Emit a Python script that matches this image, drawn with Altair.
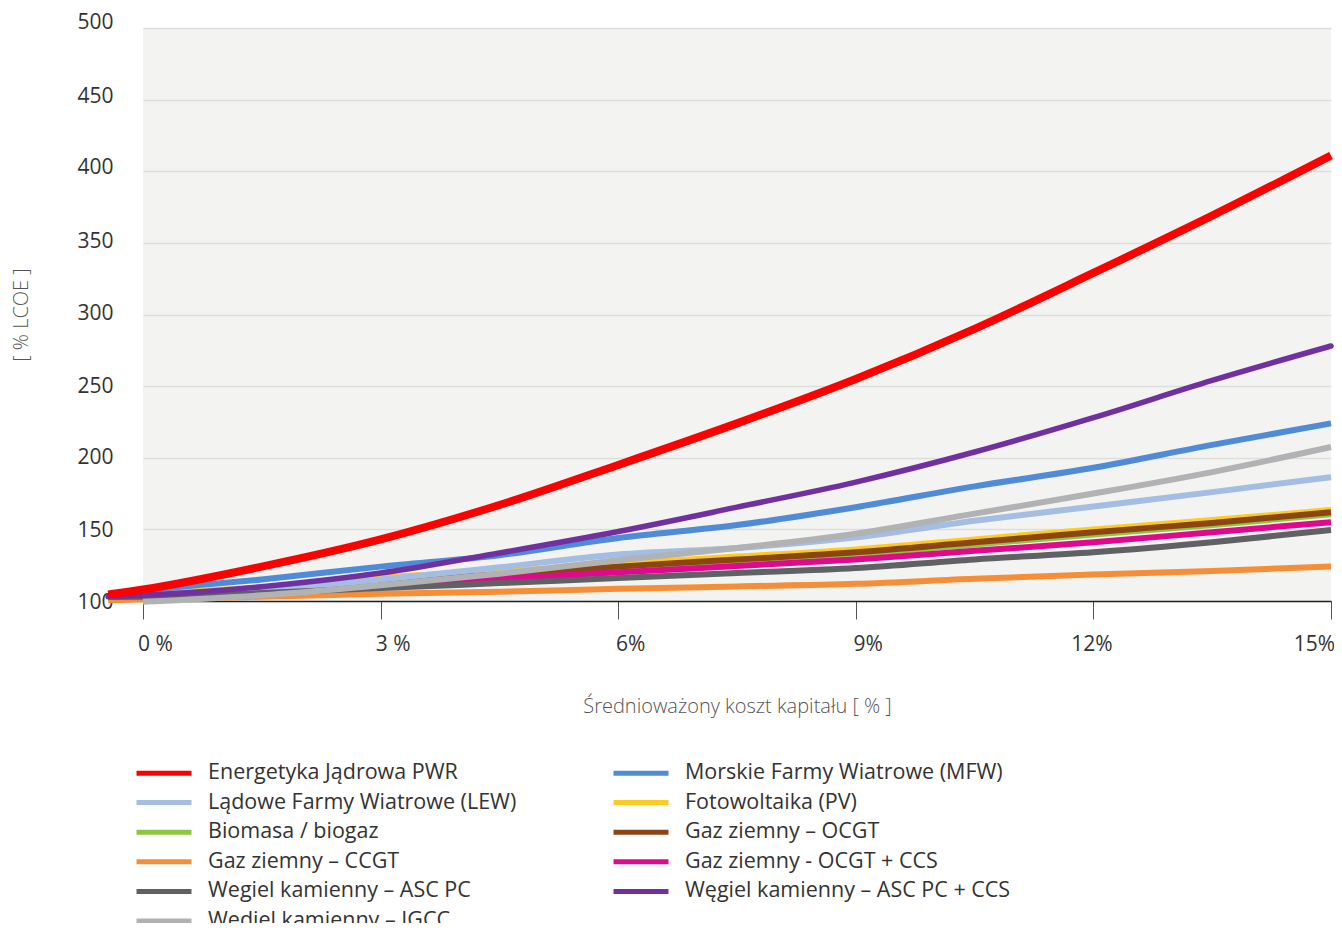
import altair as alt
import pandas as pd

# x positions (weighted average cost of capital, %)
XS = [-0.44, 0, 1.5, 3, 4.5, 6, 7.5, 9, 10.5, 12, 13.5, 15]

# series values [% LCOE]
PWR      = [104.5, 108, 124, 143, 167, 195, 224, 255, 290, 329, 369, 411]
MFW      = [103.5, 107, 115, 124, 132, 144, 153, 165.5, 180, 193, 209, 224]
LEW      = [103, 104.5, 108, 115, 123.5, 132.5, 137, 144.5, 156, 166, 176, 186.5]
PV       = [103.5, 105, 109.5, 116.5, 120.5, 126, 131, 136, 143, 150, 156.5, 163.5]
BIO      = [102.5, 103.5, 107, 112.5, 117, 122.5, 127.5, 132.5, 139.5, 146.5, 153, 160.5]
OCGT     = [103, 104, 108, 114, 118.5, 124, 129, 134, 141, 148, 154.5, 162]
CCGT     = [100.5, 101, 103, 105, 106.5, 108.5, 110.2, 112, 115.5, 118.5, 121, 124]
OCGT_CCS = [103, 103.5, 106.5, 111, 115.5, 120, 124.5, 129, 135, 141, 148, 155]
ASC      = [103, 103, 105.5, 109, 112.5, 116, 119.5, 123, 129, 134, 141, 149.5]
ASC_CCS  = [103, 104, 110, 119.5, 133.5, 148.5, 165.5, 183, 204, 228, 254, 278]
IGCC     = [None, 99.5, 104, 111, 119, 128.5, 137, 147, 161, 175, 190, 207.5]

NAMES = {
    # left legend column
    "Energetyka Jądrowa PWR": PWR,
    "Lądowe Farmy Wiatrowe (LEW)": LEW,
    "Biomasa / biogaz": BIO,
    "Gaz ziemny – CCGT": CCGT,
    "Wegiel kamienny – ASC PC": ASC,
    "Wędiel kamienny – IGCC": IGCC,
    # right legend column
    "Morskie Farmy Wiatrowe (MFW)": MFW,
    "Fotowoltaika (PV)": PV,
    "Gaz ziemny – OCGT": OCGT,
    "Gaz ziemny - OCGT + CCS": OCGT_CCS,
    "Węgiel kamienny – ASC PC + CCS": ASC_CCS,
}
LEGEND_ORDER = list(NAMES.keys())
COLORS = ["#ff0000", "#a3bde3", "#8dc63f", "#f68e37", "#606164", "#b1b2b4",
          "#4f8bd6", "#ffcb22", "#8b4513", "#e0088f", "#7030a0"]

# drawing order (bottom to top)
DRAW_ORDER = ["Gaz ziemny – CCGT", "Biomasa / biogaz", "Fotowoltaika (PV)",
              "Gaz ziemny – OCGT", "Gaz ziemny - OCGT + CCS", "Lądowe Farmy Wiatrowe (LEW)",
              "Wegiel kamienny – ASC PC", "Wędiel kamienny – IGCC",
              "Morskie Farmy Wiatrowe (MFW)", "Węgiel kamienny – ASC PC + CCS",
              "Energetyka Jądrowa PWR"]

X_TICKS = [0, 3, 6, 9, 12, 15]
X_LABELS = ["0 %", "3 %", "6%", "9%", "12%", "15%"]
Y_TICKS = [100, 150, 200, 250, 300, 350, 400, 450, 500]

rows = []
for s in DRAW_ORDER:
    for x, v in zip(XS, NAMES[s]):
        if v is not None:
            rows.append({"series": s, "x": x, "y": v})
df = pd.DataFrame(rows)

label_expr = " : ".join(
    f"datum.value == {v} ? '{l}'" for v, l in zip(X_TICKS, X_LABELS)
) + " : ''"

FONT = "Open Sans"

base = alt.Chart(df).encode(
    x=alt.X("x:Q",
            scale=alt.Scale(domain=[0, 15], nice=False, zero=False),
            axis=alt.Axis(values=X_TICKS, labelExpr=label_expr, grid=False,
                          labelFlush=False,
                          title="Średnioważony koszt kapitału [ % ]",
                          domainColor="#222222", domainWidth=1.5,
                          tickColor="#555555", tickSize=18, tickWidth=1,
                          labelPadding=14, labelFontSize=21, labelColor="#333333",
                          labelOffset={"condition": [
                              {"test": "datum.value <= 9", "value": 12},
                              {"test": "datum.value < 14", "value": -2}],
                              "value": -17},
                          titleFontSize=20, titleFontWeight=300, titleColor="#555555",
                          titlePadding=42)),
    y=alt.Y("y:Q",
            scale=alt.Scale(domain=[100, 500], nice=False, zero=False),
            axis=alt.Axis(values=Y_TICKS, grid=True, gridColor="#dddddd", gridWidth=1.5,
                          labelFlush=False,
                          domain=False, ticks=False, labelPadding=30,
                          labelFontSize=21, labelColor="#333333",
                          labelOffset={"condition": [
                              {"test": "datum.value >= 500", "value": -6},
                              {"test": "datum.value >= 400", "value": -3.5},
                              {"test": "datum.value >= 300", "value": -1.3},
                              {"test": "datum.value >= 200", "value": 0}],
                              "value": 1.5},
                          title="[ % LCOE ]", titleFontSize=20, titleFontWeight=300,
                          titleColor="#555555", titlePadding=45)),
    color=alt.Color("series:N",
                    scale=alt.Scale(domain=LEGEND_ORDER, range=COLORS),
                    legend=alt.Legend(title=None, orient="none", legendX=9, legendY=733,
                                      columns=2, symbolType="M-3,0H3", symbolSize=336,
                                      symbolStrokeWidth=5, labelFontSize=21.5,
                                      labelColor="#333333", labelLimit=600,
                                      columnPadding=86, rowPadding=6.6, labelOffset=32,
                                      padding=0)),
)

others = [s for s in DRAW_ORDER if s not in ("Energetyka Jądrowa PWR", "Węgiel kamienny – ASC PC + CCS")]

l1 = base.transform_filter(alt.FieldOneOfPredicate(field="series", oneOf=others)).mark_line(
    interpolate="monotone", strokeWidth=6)
l2 = base.transform_filter(alt.datum.series == "Węgiel kamienny – ASC PC + CCS").mark_line(
    interpolate="monotone", strokeWidth=5.5, strokeCap="round")
l3 = base.transform_filter(alt.datum.series == "Energetyka Jądrowa PWR").mark_line(
    interpolate="monotone", strokeWidth=8)

chart = alt.layer(l1, l2, l3).properties(
    width=1188, height=573,
    autosize=alt.AutoSizeParams(type="none"),
    padding={"left": 135, "top": 20, "right": 3, "bottom": 322},
).configure_view(
    fill="#f3f3f1", stroke=None
).configure_axis(
    labelFont=FONT, titleFont=FONT
).configure_legend(
    labelFont=FONT
)

chart.save("out.html", embed_options={"renderer": "svg", "actions": False})
